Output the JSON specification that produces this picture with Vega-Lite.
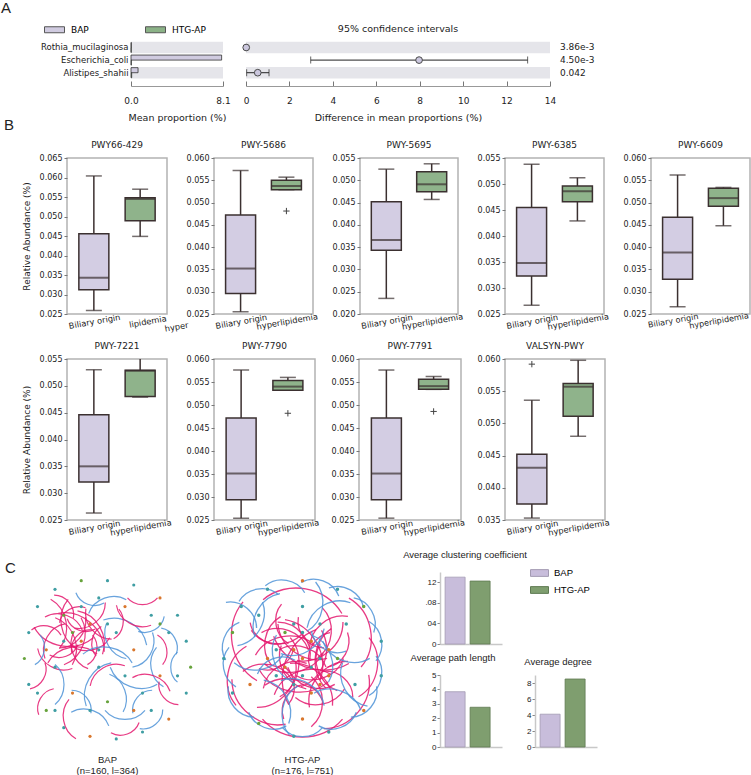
{
"$schema": "https://vega.github.io/schema/vega-lite/v6.json",
"padding": {"left": 1, "top": 1, "right": 0, "bottom": 0},
"background": "white",
"config": {
 "view": {"stroke": null},
 "font": "DejaVu Sans",
 "title": {"font": "DejaVu Sans", "fontWeight": "normal", "fontSize": 9, "color": "#222"},
 "axis": {"labelFont": "DejaVu Sans", "titleFont": "DejaVu Sans", "titleFontWeight": "normal", "titleFontSize": 9, "labelColor": "#222", "titleColor": "#222", "tickColor": "#777", "domainColor": "#999", "grid": false},
 "legend": {"labelFont": "DejaVu Sans"},
 "text": {"font": "DejaVu Sans"}
},
"datasets": {
 "prop": [
  {"sp":"Rothia_mucilaginosa","g":"BAP","v":0.03},
  {"sp":"Rothia_mucilaginosa","g":"HTG-AP","v":0.02},
  {"sp":"Escherichia_coli","g":"BAP","v":7.98},
  {"sp":"Escherichia_coli","g":"HTG-AP","v":0.03},
  {"sp":"Alistipes_shahii","g":"BAP","v":0.62},
  {"sp":"Alistipes_shahii","g":"HTG-AP","v":0.06}
 ],
 "bandsA": [{"sp":"Rothia_mucilaginosa"},{"sp":"Alistipes_shahii"}],
 "ci": [
  {"sp":"Rothia_mucilaginosa","d":0.01,"lo":0.0,"hi":0.02,"p":"3.86e-3"},
  {"sp":"Escherichia_coli","d":7.97,"lo":2.98,"hi":12.97,"p":"4.50e-3"},
  {"sp":"Alistipes_shahii","d":0.54,"lo":0.03,"hi":1.06,"p":"0.042"}
 ],
 "box": [
  {"p":"PWY66-429","g":"Biliary origin","lo":0.0259,"q1":0.0312,"med":0.0343,"q3":0.0456,"hi":0.0604},
  {"p":"PWY66-429","g":"hyperlipidemia","lo":0.0449,"q1":0.0489,"med":0.0545,"q3":0.0548,"hi":0.0570},
  {"p":"PWY-5686","g":"Biliary origin","lo":0.0255,"q1":0.0296,"med":0.0352,"q3":0.0472,"hi":0.0572},
  {"p":"PWY-5686","g":"hyperlipidemia","lo":0.0529,"q1":0.0529,"med":0.0537,"q3":0.0550,"hi":0.0557},
  {"p":"PWY-5695","g":"Biliary origin","lo":0.0235,"q1":0.0343,"med":0.0366,"q3":0.0452,"hi":0.0525},
  {"p":"PWY-5695","g":"hyperlipidemia","lo":0.0457,"q1":0.0474,"med":0.0491,"q3":0.0519,"hi":0.0537},
  {"p":"PWY-6385","g":"Biliary origin","lo":0.0267,"q1":0.0323,"med":0.0348,"q3":0.0455,"hi":0.0538},
  {"p":"PWY-6385","g":"hyperlipidemia","lo":0.0429,"q1":0.0466,"med":0.0486,"q3":0.0496,"hi":0.0512},
  {"p":"PWY-6609","g":"Biliary origin","lo":0.0266,"q1":0.0328,"med":0.0388,"q3":0.0467,"hi":0.0562},
  {"p":"PWY-6609","g":"hyperlipidemia","lo":0.0448,"q1":0.0492,"med":0.0510,"q3":0.0532,"hi":0.0534},
  {"p":"PWY-7221","g":"Biliary origin","lo":0.0263,"q1":0.0321,"med":0.0350,"q3":0.0446,"hi":0.0530},
  {"p":"PWY-7221","g":"hyperlipidemia","lo":0.0479,"q1":0.0480,"med":0.0528,"q3":0.0529,"hi":0.0560},
  {"p":"PWY-7790","g":"Biliary origin","lo":0.0254,"q1":0.0294,"med":0.0351,"q3":0.0472,"hi":0.0576},
  {"p":"PWY-7790","g":"hyperlipidemia","lo":0.0532,"q1":0.0532,"med":0.0540,"q3":0.0553,"hi":0.0560},
  {"p":"PWY-7791","g":"Biliary origin","lo":0.0254,"q1":0.0294,"med":0.0351,"q3":0.0472,"hi":0.0576},
  {"p":"PWY-7791","g":"hyperlipidemia","lo":0.0534,"q1":0.0534,"med":0.0541,"q3":0.0556,"hi":0.0562},
  {"p":"VALSYN-PWY","g":"Biliary origin","lo":0.0353,"q1":0.0375,"med":0.0431,"q3":0.0452,"hi":0.0536},
  {"p":"VALSYN-PWY","g":"hyperlipidemia","lo":0.0480,"q1":0.0511,"med":0.0557,"q3":0.0562,"hi":0.0598}
 ],
 "out": [
  {"p":"PWY-5686","g":"hyperlipidemia","v":0.0481},
  {"p":"PWY-7790","g":"hyperlipidemia","v":0.0482},
  {"p":"PWY-7791","g":"hyperlipidemia","v":0.0486},
  {"p":"VALSYN-PWY","g":"Biliary origin","v":0.0592}
 ],
 "netstat": [
  {"m":"c","g":"BAP","v":0.130},{"m":"c","g":"HTG-AP","v":0.1224},
  {"m":"l","g":"BAP","v":3.84},{"m":"l","g":"HTG-AP","v":2.76},
  {"m":"d","g":"BAP","v":4.1},{"m":"d","g":"HTG-AP","v":8.5}
 ],
 "edges": [
  {"n":"B","x":-5,"y":4,"s":1600,"a":20,"k":"p"},{"n":"B","x":-4,"y":2,"s":2500,"a":110,"k":"p"},{"n":"B","x":-3,"y":4,"s":900,"a":200,"k":"p"},{"n":"B","x":-6,"y":2,"s":1600,"a":300,"k":"p"},
  {"n":"B","x":-2,"y":3,"s":2500,"a":60,"k":"p"},{"n":"B","x":-5,"y":1,"s":900,"a":160,"k":"p"},{"n":"B","x":-3,"y":1,"s":1600,"a":250,"k":"p"},{"n":"B","x":-4,"y":5,"s":900,"a":330,"k":"p"},
  {"n":"B","x":-6,"y":4,"s":2500,"a":80,"k":"p"},{"n":"B","x":-2,"y":5,"s":1600,"a":140,"k":"p"},{"n":"B","x":-1,"y":2,"s":900,"a":280,"k":"p"},{"n":"B","x":-7,"y":3,"s":900,"a":10,"k":"p"},
  {"n":"B","x":-3,"y":3,"s":3600,"a":40,"k":"p"},{"n":"B","x":-5,"y":3,"s":3600,"a":190,"k":"p"},{"n":"B","x":-1,"y":4,"s":1600,"a":230,"k":"p"},{"n":"B","x":-4,"y":0,"s":2500,"a":350,"k":"p"},
  {"n":"B","x":-2,"y":1,"s":900,"a":100,"k":"p"},{"n":"B","x":-6,"y":0,"s":1600,"a":210,"k":"p"},{"n":"B","x":-4,"y":3,"s":1600,"a":130,"k":"p"},{"n":"B","x":-3,"y":2,"s":900,"a":310,"k":"p"},
  {"n":"B","x":-4,"y":4,"s":2500,"a":260,"k":"p"},{"n":"B","x":-5,"y":2,"s":2500,"a":70,"k":"p"},{"n":"B","x":-2,"y":2,"s":1600,"a":170,"k":"p"},
  {"n":"B","x":2,"y":3,"s":2500,"a":30,"k":"b"},{"n":"B","x":4,"y":1,"s":1600,"a":120,"k":"b"},{"n":"B","x":3,"y":-2,"s":2500,"a":200,"k":"b"},{"n":"B","x":1,"y":-4,"s":1600,"a":70,"k":"b"},
  {"n":"B","x":-1,"y":-3,"s":2500,"a":300,"k":"b"},{"n":"B","x":5,"y":4,"s":900,"a":150,"k":"b"},{"n":"B","x":6,"y":-1,"s":1600,"a":260,"k":"b"},{"n":"B","x":0,"y":6,"s":1600,"a":340,"k":"b"},
  {"n":"B","x":-3,"y":-5,"s":900,"a":50,"k":"b"},{"n":"B","x":2,"y":-6,"s":1600,"a":180,"k":"b"},{"n":"B","x":-6,"y":-3,"s":1600,"a":90,"k":"b"},{"n":"B","x":0,"y":0,"s":2500,"a":10,"k":"b"},
  {"n":"B","x":1,"y":2,"s":1600,"a":240,"k":"b"},{"n":"B","x":4,"y":-5,"s":900,"a":310,"k":"b"},{"n":"B","x":7,"y":2,"s":900,"a":60,"k":"b"},{"n":"B","x":-2,"y":7,"s":900,"a":200,"k":"b"},
  {"n":"B","x":-2,"y":-7,"s":1600,"a":20,"k":"b"},{"n":"B","x":5,"y":-7,"s":900,"a":140,"k":"b"},{"n":"B","x":8,"y":-1,"s":900,"a":270,"k":"b"},{"n":"B","x":-8,"y":1,"s":900,"a":100,"k":"b"},
  {"n":"B","x":3,"y":5,"s":1600,"a":210,"k":"p"},{"n":"B","x":6,"y":1,"s":900,"a":80,"k":"p"},{"n":"B","x":5,"y":-3,"s":1600,"a":20,"k":"p"},{"n":"B","x":2,"y":-8,"s":900,"a":160,"k":"p"},
  {"n":"B","x":-4,"y":-7,"s":1600,"a":260,"k":"p"},{"n":"B","x":-8,"y":-2,"s":900,"a":120,"k":"p"},{"n":"B","x":0,"y":-2,"s":1600,"a":330,"k":"p"},{"n":"B","x":1,"y":4,"s":900,"a":100,"k":"p"},
  {"n":"B","x":7,"y":-4,"s":900,"a":230,"k":"p"},{"n":"B","x":-7,"y":-5,"s":900,"a":300,"k":"p"},{"n":"B","x":4,"y":7,"s":900,"a":180,"k":"p"},{"n":"B","x":-5,"y":6,"s":900,"a":50,"k":"p"},
  {"n":"H","x":0,"y":0,"s":2500,"a":20,"k":"p"},{"n":"H","x":-2,"y":-1,"s":3600,"a":100,"k":"p"},{"n":"H","x":1,"y":-2,"s":2500,"a":200,"k":"p"},{"n":"H","x":2,"y":1,"s":1600,"a":300,"k":"p"},
  {"n":"H","x":-1,"y":2,"s":2500,"a":50,"k":"p"},{"n":"H","x":-3,"y":0,"s":1600,"a":150,"k":"p"},{"n":"H","x":3,"y":-1,"s":2500,"a":250,"k":"p"},{"n":"H","x":0,"y":-3,"s":3600,"a":340,"k":"p"},
  {"n":"H","x":-2,"y":-3,"s":1600,"a":80,"k":"p"},{"n":"H","x":2,"y":-4,"s":2500,"a":170,"k":"p"},{"n":"H","x":1,"y":3,"s":1600,"a":230,"k":"p"},{"n":"H","x":-3,"y":2,"s":2500,"a":280,"k":"p"},
  {"n":"H","x":4,"y":1,"s":1600,"a":120,"k":"p"},{"n":"H","x":-4,"y":-2,"s":2500,"a":10,"k":"p"},{"n":"H","x":0,"y":1,"s":4900,"a":60,"k":"p"},{"n":"H","x":-1,"y":-2,"s":4900,"a":190,"k":"p"},
  {"n":"H","x":3,"y":3,"s":2500,"a":320,"k":"p"},{"n":"H","x":-2,"y":4,"s":1600,"a":260,"k":"p"},{"n":"H","x":4,"y":-3,"s":1600,"a":40,"k":"p"},{"n":"H","x":-4,"y":3,"s":1600,"a":210,"k":"p"},
  {"n":"H","x":1,"y":-5,"s":2500,"a":90,"k":"p"},{"n":"H","x":-1,"y":-5,"s":1600,"a":300,"k":"p"},{"n":"H","x":2,"y":2,"s":3600,"a":140,"k":"p"},{"n":"H","x":-2,"y":1,"s":3600,"a":350,"k":"p"},
  {"n":"H","x":1,"y":0,"s":3600,"a":110,"k":"p"},{"n":"H","x":-1,"y":-1,"s":2500,"a":240,"k":"p"},{"n":"H","x":2,"y":-1,"s":2500,"a":160,"k":"p"},{"n":"H","x":-2,"y":2,"s":2500,"a":20,"k":"p"},
  {"n":"H","x":0,"y":-1,"s":6400,"a":290,"k":"p"},{"n":"H","x":1,"y":1,"s":6400,"a":200,"k":"p"},{"n":"H","x":-3,"y":-3,"s":3600,"a":130,"k":"p"},{"n":"H","x":3,"y":-3,"s":3600,"a":310,"k":"p"},
  {"n":"H","x":-1,"y":0,"s":3600,"a":170,"k":"p"},{"n":"H","x":1,"y":-3,"s":3600,"a":45,"k":"p"},{"n":"H","x":0,"y":2,"s":3600,"a":215,"k":"p"},{"n":"H","x":-2,"y":-2,"s":2500,"a":330,"k":"p"},
  {"n":"H","x":2,"y":3,"s":2500,"a":95,"k":"p"},{"n":"H","x":-3,"y":3,"s":2500,"a":185,"k":"p"},{"n":"H","x":3,"y":0,"s":3600,"a":275,"k":"p"},{"n":"H","x":-1,"y":-4,"s":3600,"a":15,"k":"p"},
  {"n":"H","x":0,"y":2,"s":2500,"a":150,"k":"b"},{"n":"H","x":2,"y":0,"s":2500,"a":70,"k":"b"},{"n":"H","x":-2,"y":0,"s":2500,"a":250,"k":"b"},{"n":"H","x":0,"y":-4,"s":2500,"a":30,"k":"b"},
  {"n":"H","x":-3,"y":-1,"s":1600,"a":340,"k":"b"},{"n":"H","x":3,"y":2,"s":1600,"a":210,"k":"b"},
  {"n":"H","x":0,"y":6,"s":6400,"a":10,"k":"p"},{"n":"H","x":-6,"y":2,"s":6400,"a":260,"k":"p"},{"n":"H","x":5,"y":-5,"s":4900,"a":130,"k":"p"},{"n":"H","x":-5,"y":-5,"s":4900,"a":220,"k":"p"},
  {"n":"H","x":6,"y":3,"s":4900,"a":80,"k":"p"},{"n":"H","x":0,"y":-7,"s":6400,"a":180,"k":"p"},{"n":"H","x":7,"y":-1,"s":3600,"a":100,"k":"p"},{"n":"H","x":-7,"y":-2,"s":3600,"a":280,"k":"p"},
  {"n":"H","x":-7,"y":5,"s":1600,"a":40,"k":"b"},{"n":"H","x":-5,"y":7,"s":1600,"a":350,"k":"b"},{"n":"H","x":-2,"y":8,"s":1600,"a":10,"k":"b"},{"n":"H","x":2,"y":8,"s":1600,"a":20,"k":"b"},
  {"n":"H","x":5,"y":7,"s":1600,"a":30,"k":"b"},{"n":"H","x":7,"y":5,"s":1600,"a":60,"k":"b"},{"n":"H","x":8,"y":2,"s":1600,"a":80,"k":"b"},{"n":"H","x":8,"y":-2,"s":1600,"a":100,"k":"b"},
  {"n":"H","x":7,"y":-5,"s":1600,"a":130,"k":"b"},{"n":"H","x":4,"y":-7,"s":1600,"a":160,"k":"b"},{"n":"H","x":0,"y":-8,"s":1600,"a":180,"k":"b"},{"n":"H","x":-4,"y":-7,"s":1600,"a":200,"k":"b"},
  {"n":"H","x":-7,"y":-5,"s":1600,"a":230,"k":"b"},{"n":"H","x":-8,"y":-1,"s":1600,"a":260,"k":"b"},{"n":"H","x":-8,"y":2,"s":1600,"a":290,"k":"b"},{"n":"H","x":-6,"y":4,"s":2500,"a":120,"k":"b"},
  {"n":"H","x":6,"y":-3,"s":2500,"a":240,"k":"b"},{"n":"H","x":3,"y":5,"s":2500,"a":330,"k":"b"},{"n":"H","x":-3,"y":-5,"s":2500,"a":60,"k":"b"},{"n":"H","x":-5,"y":0,"s":2500,"a":170,"k":"b"},
  {"n":"H","x":5,"y":1,"s":2500,"a":200,"k":"b"},{"n":"H","x":1,"y":6,"s":2500,"a":100,"k":"b"},{"n":"H","x":-1,"y":-6,"s":2500,"a":280,"k":"b"},{"n":"H","x":-4,"y":5,"s":2500,"a":300,"k":"b"},
  {"n":"H","x":4,"y":-5,"s":2500,"a":20,"k":"b"}
 ],
 "nodes": [
  {"n":"B","x":-8,"y":6,"c":"t"},{"n":"B","x":-6,"y":8,"c":"t"},{"n":"B","x":-3,"y":9,"c":"g"},{"n":"B","x":0,"y":9,"c":"t"},{"n":"B","x":3,"y":8.5,"c":"t"},{"n":"B","x":6,"y":7,"c":"o"},
  {"n":"B","x":8,"y":5,"c":"t"},{"n":"B","x":9,"y":2,"c":"t"},{"n":"B","x":9.5,"y":-1,"c":"g"},{"n":"B","x":9,"y":-4,"c":"t"},{"n":"B","x":7,"y":-7,"c":"o"},{"n":"B","x":4,"y":-8.5,"c":"t"},
  {"n":"B","x":1,"y":-9.3,"c":"t"},{"n":"B","x":-2,"y":-9,"c":"o"},{"n":"B","x":-5,"y":-8,"c":"t"},{"n":"B","x":-7,"y":-6,"c":"g"},{"n":"B","x":-9,"y":-3,"c":"t"},{"n":"B","x":-9.5,"y":0,"c":"g"},
  {"n":"B","x":-9,"y":3,"c":"t"},{"n":"B","x":-7,"y":1,"c":"o"},{"n":"B","x":-5,"y":5,"c":"g"},{"n":"B","x":-3,"y":6,"c":"t"},{"n":"B","x":-1,"y":7,"c":"t"},{"n":"B","x":2,"y":6,"c":"o"},
  {"n":"B","x":5,"y":5,"c":"t"},{"n":"B","x":7,"y":3,"c":"t"},{"n":"B","x":6,"y":-2,"c":"o"},{"n":"B","x":4,"y":-4,"c":"t"},{"n":"B","x":2,"y":-2,"c":"t"},{"n":"B","x":0,"y":-5,"c":"g"},
  {"n":"B","x":-2,"y":-6,"c":"t"},{"n":"B","x":-4,"y":-4,"c":"o"},{"n":"B","x":-6,"y":-1,"c":"t"},{"n":"B","x":-3,"y":2,"c":"o"},{"n":"B","x":-1,"y":1,"c":"t"},{"n":"B","x":1,"y":3,"c":"t"},
  {"n":"B","x":3,"y":1,"c":"o"},{"n":"B","x":5,"y":-6,"c":"t"},{"n":"B","x":-8,"y":-4,"c":"t"},{"n":"B","x":8,"y":-2,"c":"t"},{"n":"B","x":-4,"y":3,"c":"g"},{"n":"B","x":-2,"y":4,"c":"o"},
  {"n":"B","x":-5,"y":2,"c":"t"},{"n":"B","x":0,"y":4,"c":"t"},{"n":"B","x":3,"y":-6,"c":"o"},{"n":"B","x":-6,"y":-6,"c":"t"},{"n":"B","x":6,"y":4,"c":"g"},{"n":"B","x":-1,"y":-1,"c":"t"},
  {"n":"H","x":0,"y":0,"c":"o"},{"n":"H","x":1,"y":-1,"c":"t"},{"n":"H","x":-1,"y":1,"c":"o"},{"n":"H","x":2,"y":0,"c":"t"},{"n":"H","x":-2,"y":-1,"c":"o"},{"n":"H","x":0,"y":-2,"c":"t"},
  {"n":"H","x":1,"y":2,"c":"o"},{"n":"H","x":-1,"y":-3,"c":"t"},{"n":"H","x":2,"y":-3,"c":"o"},{"n":"H","x":-3,"y":1,"c":"t"},{"n":"H","x":3,"y":1,"c":"o"},{"n":"H","x":-2,"y":3,"c":"g"},
  {"n":"H","x":0,"y":3,"c":"t"},{"n":"H","x":3,"y":-2,"c":"o"},{"n":"H","x":-3,"y":-2,"c":"t"},{"n":"H","x":1,"y":-4,"c":"o"},{"n":"H","x":-1,"y":4,"c":"t"},{"n":"H","x":4,"y":0,"c":"g"},
  {"n":"H","x":-4,"y":0,"c":"o"},{"n":"H","x":2,"y":4,"c":"t"},{"n":"H","x":-7,"y":6,"c":"t"},{"n":"H","x":-4,"y":8,"c":"t"},{"n":"H","x":0,"y":9,"c":"o"},{"n":"H","x":4,"y":8,"c":"t"},
  {"n":"H","x":7,"y":6,"c":"g"},{"n":"H","x":9,"y":2,"c":"t"},{"n":"H","x":9,"y":-2,"c":"t"},{"n":"H","x":7,"y":-6,"c":"o"},{"n":"H","x":3,"y":-8.5,"c":"t"},{"n":"H","x":-1,"y":-9,"c":"t"},
  {"n":"H","x":-5,"y":-7.5,"c":"g"},{"n":"H","x":-8,"y":-4,"c":"t"},{"n":"H","x":-9,"y":0,"c":"t"},{"n":"H","x":-8,"y":3,"c":"g"},{"n":"H","x":6,"y":-3,"c":"t"},{"n":"H","x":-6,"y":-3,"c":"o"},
  {"n":"H","x":5,"y":4,"c":"t"},{"n":"H","x":-5,"y":5,"c":"t"},{"n":"H","x":0,"y":-7,"c":"o"},{"n":"H","x":0,"y":6,"c":"t"}
 ]
},
"bounds": "flush",
"spacing": 0,
"resolve": {"scale": {"color": "independent", "stroke": "independent"}, "legend": {"color": "independent"}},
"vconcat": [
 {
  "bounds": "flush", "spacing": 0,
  "resolve": {"scale": {"color": "independent"}, "legend": {"color": "independent"}},
  "hconcat": [
   {"width": 111, "height": 46, "data": {"values": []}, "mark": {"type": "rule"}, "encoding": {},
    "title": {"text": "A", "anchor": "start", "frame": "group", "dx": -19, "offset": 24, "fontSize": 15, "font": "Liberation Sans"}},
   {
    "width": 92, "height": 46,
    "resolve": {"axis": {"x": "independent", "y": "independent"}},
    "layer": [
     {"data": {"name": "bandsA"}, "mark": {"type": "bar", "color": "#e5e5ea"},
      "encoding": {
       "y": {"field": "sp", "type": "nominal", "scale": {"domain": ["Rothia_mucilaginosa","Escherichia_coli","Alistipes_shahii"], "paddingInner": 0.08, "paddingOuter": 0.365, "align": 0.185}, "axis": {"domain": false, "ticks": false, "labelFontSize": 8.5, "labelPadding": 3, "title": null}},
       "x": {"datum": 0, "type": "quantitative", "scale": {"domain": [0, 8.1]}, "axis": {"values": [0, 8.1], "format": ".1f", "tickSize": -5, "labelPadding": 15, "labelFlush": false, "labelOverlap": false, "labelFontSize": 9, "titleFontSize": 9.5, "titlePadding": 7, "title": "Mean proportion (%)"}},
       "x2": {"datum": 8.1}
      }},
     {"data": {"name": "prop"}, "mark": {"type": "bar", "stroke": "#333", "strokeWidth": 0.8},
      "encoding": {
       "y": {"field": "sp", "type": "nominal", "scale": {"domain": ["Rothia_mucilaginosa","Escherichia_coli","Alistipes_shahii"], "paddingInner": 0.08, "paddingOuter": 0.365, "align": 0.185}, "axis": null},
       "yOffset": {"field": "g", "type": "nominal", "scale": {"domain": ["BAP","HTG-AP"], "paddingOuter": 0.15, "paddingInner": 0}},
       "x": {"field": "v", "type": "quantitative", "scale": {"domain": [0, 8.1]}, "axis": null},
       "color": {"field": "g", "type": "nominal", "scale": {"domain": ["BAP","HTG-AP"], "range": ["#d0cbe0","#8bb287"]},
        "legend": {"orient": "none", "legendX": -82, "legendY": -16, "direction": "horizontal", "title": null, "symbolType": "M-2,-0.6H2V0.6H-2Z", "symbolSize": 100, "labelOffset": 11, "columnPadding": 54, "padding": 0, "labelFontSize": 9, "symbolStrokeColor": "#555", "symbolStrokeWidth": 1, "symbolOpacity": 1}}
      }}
    ]
   },
   {"width": 23, "height": 46, "data": {"values": []}, "mark": {"type": "rule"}, "encoding": {}},
   {
    "width": 304, "height": 46,
    "title": {"text": "95% confidence intervals", "fontSize": 9.5, "offset": 7},
    "resolve": {"axis": {"x": "independent", "y": "independent"}},
    "layer": [
     {"data": {"name": "bandsA"}, "mark": {"type": "bar", "color": "#e5e5ea"},
      "encoding": {
       "y": {"field": "sp", "type": "nominal", "scale": {"domain": ["Rothia_mucilaginosa","Escherichia_coli","Alistipes_shahii"], "paddingInner": 0.08, "paddingOuter": 0.365, "align": 0.185}, "axis": null},
       "x": {"datum": 0, "type": "quantitative", "scale": {"domain": [0, 14]}, "axis": {"values": [0,2,4,6,8,10,12,14], "tickSize": -5, "labelPadding": 15, "labelFlush": false, "labelOverlap": false, "labelFontSize": 9, "titleFontSize": 9.5, "titlePadding": 7, "title": "Difference in mean proportions (%)"}},
       "x2": {"datum": 14}
      }},
     {"data": {"name": "ci"}, "mark": {"type": "rule", "color": "#222", "strokeWidth": 1},
      "encoding": {
       "y": {"field": "sp", "type": "nominal", "scale": {"domain": ["Rothia_mucilaginosa","Escherichia_coli","Alistipes_shahii"], "paddingInner": 0.08, "paddingOuter": 0.365, "align": 0.185}, "axis": null},
       "x": {"field": "lo", "type": "quantitative", "scale": {"domain": [0, 14]}, "axis": null},
       "x2": {"field": "hi"}
      }},
     {"data": {"name": "ci"}, "mark": {"type": "tick", "color": "#222", "thickness": 1, "size": 7},
      "encoding": {
       "y": {"field": "sp", "type": "nominal", "scale": {"domain": ["Rothia_mucilaginosa","Escherichia_coli","Alistipes_shahii"], "paddingInner": 0.08, "paddingOuter": 0.365, "align": 0.185}, "axis": null},
       "x": {"field": "lo", "type": "quantitative", "scale": {"domain": [0, 14]}, "axis": null}
      }},
     {"data": {"name": "ci"}, "mark": {"type": "tick", "color": "#222", "thickness": 1, "size": 7},
      "encoding": {
       "y": {"field": "sp", "type": "nominal", "scale": {"domain": ["Rothia_mucilaginosa","Escherichia_coli","Alistipes_shahii"], "paddingInner": 0.08, "paddingOuter": 0.365, "align": 0.185}, "axis": null},
       "x": {"field": "hi", "type": "quantitative", "scale": {"domain": [0, 14]}, "axis": null}
      }},
     {"data": {"name": "ci"}, "mark": {"type": "point", "filled": true, "fill": "#cbc7de", "stroke": "#4a4a4a", "strokeWidth": 1, "size": 45, "opacity": 1},
      "encoding": {
       "y": {"field": "sp", "type": "nominal", "scale": {"domain": ["Rothia_mucilaginosa","Escherichia_coli","Alistipes_shahii"], "paddingInner": 0.08, "paddingOuter": 0.365, "align": 0.185}, "axis": null},
       "x": {"field": "d", "type": "quantitative", "scale": {"domain": [0, 14]}, "axis": null}
      }},
     {"data": {"name": "ci"}, "mark": {"type": "text", "align": "left", "fontSize": 9, "color": "#222"},
      "encoding": {
       "y": {"field": "sp", "type": "nominal", "scale": {"domain": ["Rothia_mucilaginosa","Escherichia_coli","Alistipes_shahii"], "paddingInner": 0.08, "paddingOuter": 0.365, "align": 0.185}, "axis": null},
       "x": {"datum": 14.46, "type": "quantitative", "scale": {"domain": [0, 14]}, "axis": null},
       "text": {"field": "p"}
      }}
    ]
   }
  ]
 },
 {"width": 1, "height": 118, "data": {"values": []}, "mark": {"type": "rule"}, "encoding": {}},
 {
  "bounds": "flush", "spacing": 0,
  "resolve": {"scale": {"color": "independent"}, "legend": {"color": "independent"}},
  "hconcat": [
   {"width": 47, "height": 156, "data": {"values": []}, "mark": {"type": "rule"}, "encoding": {},
    "title": {"text": "B", "anchor": "start", "frame": "group", "dx": -16, "offset": 25, "fontSize": 15, "font": "Liberation Sans"}},
   {"width": 100, "height": 156, "view": {"stroke": "#b3b3b3", "strokeWidth": 1.5},
    "title": {"text": "PWY66-429", "fontSize": 9, "offset": 4},
    "data": {"name": "box"}, "transform": [{"filter": "datum.p == 'PWY66-429'"}],
    "resolve": {"axis": {"y": "independent"}},
    "encoding": {"x": {"field": "g", "type": "nominal", "scale": {"domain": ["Biliary origin","hyperlipidemia"], "paddingInner": 0, "paddingOuter": 0.08}, "axis": {"labelAngle": -10, "labelAlign": "center", "labelBaseline": "top", "labelPadding": 3, "labelOffset": {"condition": {"test": "datum.value == 'hyperlipidemia'", "value": 7}, "value": 0}, "domain": false, "ticks": false, "labelFontSize": 8.3, "labelExpr": "datum.value == 'hyperlipidemia' ? ['lipidemia', '\u2800\u2800\u2800\u2800\u2800\u2800\u2800\u2800\u2800hyper'] : datum.label", "title": null}}},
    "layer": [
     {"mark": {"type": "rule", "color": "#3b3030", "strokeWidth": 1.5, "clip": true}, "encoding": {"y": {"field": "lo", "type": "quantitative", "scale": {"domain": [0.025, 0.065]}, "axis": {"values": [0.025,0.03,0.035,0.04,0.045,0.05,0.055,0.06,0.065], "format": ".3f", "domain": false, "tickSize": 3, "labelFontSize": 8, "labelPadding": 2, "labelOverlap": false, "title": "Relative Abundance (%)", "titlePadding": 8}}, "y2": {"field": "hi"}}},
     {"mark": {"type": "tick", "color": "#3b3030", "thickness": 1.5, "size": 16, "clip": true}, "encoding": {"y": {"field": "lo", "type": "quantitative", "scale": {"domain": [0.025, 0.065]}, "axis": null}}},
     {"mark": {"type": "tick", "color": "#3b3030", "thickness": 1.5, "size": 16, "clip": true}, "encoding": {"y": {"field": "hi", "type": "quantitative", "scale": {"domain": [0.025, 0.065]}, "axis": null}}},
     {"mark": {"type": "bar", "size": 30, "stroke": "#3b3030", "strokeWidth": 1.5, "clip": true}, "encoding": {"y": {"field": "q1", "type": "quantitative", "scale": {"domain": [0.025, 0.065]}, "axis": null}, "y2": {"field": "q3"}, "color": {"field": "g", "type": "nominal", "scale": {"domain": ["Biliary origin","hyperlipidemia"], "range": ["#d3cde3","#8fb38b"]}, "legend": null}}},
     {"mark": {"type": "tick", "color": "#3b3030", "thickness": 2, "size": 30, "clip": true}, "encoding": {"y": {"field": "med", "type": "quantitative", "scale": {"domain": [0.025, 0.065]}, "axis": null}}}
    ]},
   {"width": 47, "height": 156, "data": {"values": []}, "mark": {"type": "rule"}, "encoding": {}},
   {"width": 99, "height": 156, "view": {"stroke": "#b3b3b3", "strokeWidth": 1.5},
    "title": {"text": "PWY-5686", "fontSize": 9, "offset": 4},
    "data": {"name": "box"}, "transform": [{"filter": "datum.p == 'PWY-5686'"}],
    "resolve": {"axis": {"y": "independent"}},
    "encoding": {"x": {"field": "g", "type": "nominal", "scale": {"domain": ["Biliary origin","hyperlipidemia"], "paddingInner": 0, "paddingOuter": 0.08}, "axis": {"labelAngle": -10, "labelAlign": "center", "labelBaseline": "top", "labelPadding": 3, "domain": false, "ticks": false, "labelFontSize": 8.3, "title": null}}},
    "layer": [
     {"mark": {"type": "rule", "color": "#3b3030", "strokeWidth": 1.5, "clip": true}, "encoding": {"y": {"field": "lo", "type": "quantitative", "scale": {"domain": [0.025, 0.06]}, "axis": {"values": [0.025,0.03,0.035,0.04,0.045,0.05,0.055,0.06], "format": ".3f", "domain": false, "tickSize": 3, "labelFontSize": 8, "labelPadding": 2, "labelOverlap": false, "title": null}}, "y2": {"field": "hi"}}},
     {"mark": {"type": "tick", "color": "#3b3030", "thickness": 1.5, "size": 16, "clip": true}, "encoding": {"y": {"field": "lo", "type": "quantitative", "scale": {"domain": [0.025, 0.06]}, "axis": null}}},
     {"mark": {"type": "tick", "color": "#3b3030", "thickness": 1.5, "size": 16, "clip": true}, "encoding": {"y": {"field": "hi", "type": "quantitative", "scale": {"domain": [0.025, 0.06]}, "axis": null}}},
     {"mark": {"type": "bar", "size": 30, "stroke": "#3b3030", "strokeWidth": 1.5, "clip": true}, "encoding": {"y": {"field": "q1", "type": "quantitative", "scale": {"domain": [0.025, 0.06]}, "axis": null}, "y2": {"field": "q3"}, "color": {"field": "g", "type": "nominal", "scale": {"domain": ["Biliary origin","hyperlipidemia"], "range": ["#d3cde3","#8fb38b"]}, "legend": null}}},
     {"mark": {"type": "tick", "color": "#3b3030", "thickness": 2, "size": 30, "clip": true}, "encoding": {"y": {"field": "med", "type": "quantitative", "scale": {"domain": [0.025, 0.06]}, "axis": null}}},
     {"data": {"name": "out"}, "transform": [{"filter": "datum.p == 'PWY-5686'"}], "mark": {"type": "point", "shape": "M-1,0H1M0,-1V1", "filled": false, "color": "#444", "size": 40, "strokeWidth": 1, "opacity": 1}, "encoding": {"y": {"field": "v", "type": "quantitative", "scale": {"domain": [0.025, 0.06]}, "axis": null}}}
    ]},
   {"width": 47, "height": 156, "data": {"values": []}, "mark": {"type": "rule"}, "encoding": {}},
   {"width": 98, "height": 156, "view": {"stroke": "#b3b3b3", "strokeWidth": 1.5},
    "title": {"text": "PWY-5695", "fontSize": 9, "offset": 4},
    "data": {"name": "box"}, "transform": [{"filter": "datum.p == 'PWY-5695'"}],
    "resolve": {"axis": {"y": "independent"}},
    "encoding": {"x": {"field": "g", "type": "nominal", "scale": {"domain": ["Biliary origin","hyperlipidemia"], "paddingInner": 0, "paddingOuter": 0.08}, "axis": {"labelAngle": -10, "labelAlign": "center", "labelBaseline": "top", "labelPadding": 3, "domain": false, "ticks": false, "labelFontSize": 8.3, "title": null}}},
    "layer": [
     {"mark": {"type": "rule", "color": "#3b3030", "strokeWidth": 1.5, "clip": true}, "encoding": {"y": {"field": "lo", "type": "quantitative", "scale": {"domain": [0.02, 0.055]}, "axis": {"values": [0.02,0.025,0.03,0.035,0.04,0.045,0.05,0.055], "format": ".3f", "domain": false, "tickSize": 3, "labelFontSize": 8, "labelPadding": 2, "labelOverlap": false, "title": null}}, "y2": {"field": "hi"}}},
     {"mark": {"type": "tick", "color": "#3b3030", "thickness": 1.5, "size": 16, "clip": true}, "encoding": {"y": {"field": "lo", "type": "quantitative", "scale": {"domain": [0.02, 0.055]}, "axis": null}}},
     {"mark": {"type": "tick", "color": "#3b3030", "thickness": 1.5, "size": 16, "clip": true}, "encoding": {"y": {"field": "hi", "type": "quantitative", "scale": {"domain": [0.02, 0.055]}, "axis": null}}},
     {"mark": {"type": "bar", "size": 30, "stroke": "#3b3030", "strokeWidth": 1.5, "clip": true}, "encoding": {"y": {"field": "q1", "type": "quantitative", "scale": {"domain": [0.02, 0.055]}, "axis": null}, "y2": {"field": "q3"}, "color": {"field": "g", "type": "nominal", "scale": {"domain": ["Biliary origin","hyperlipidemia"], "range": ["#d3cde3","#8fb38b"]}, "legend": null}}},
     {"mark": {"type": "tick", "color": "#3b3030", "thickness": 2, "size": 30, "clip": true}, "encoding": {"y": {"field": "med", "type": "quantitative", "scale": {"domain": [0.02, 0.055]}, "axis": null}}}
    ]},
   {"width": 47, "height": 156, "data": {"values": []}, "mark": {"type": "rule"}, "encoding": {}},
   {"width": 99, "height": 156, "view": {"stroke": "#b3b3b3", "strokeWidth": 1.5},
    "title": {"text": "PWY-6385", "fontSize": 9, "offset": 4},
    "data": {"name": "box"}, "transform": [{"filter": "datum.p == 'PWY-6385'"}],
    "resolve": {"axis": {"y": "independent"}},
    "encoding": {"x": {"field": "g", "type": "nominal", "scale": {"domain": ["Biliary origin","hyperlipidemia"], "paddingInner": 0, "paddingOuter": 0.08}, "axis": {"labelAngle": -10, "labelAlign": "center", "labelBaseline": "top", "labelPadding": 3, "domain": false, "ticks": false, "labelFontSize": 8.3, "title": null}}},
    "layer": [
     {"mark": {"type": "rule", "color": "#3b3030", "strokeWidth": 1.5, "clip": true}, "encoding": {"y": {"field": "lo", "type": "quantitative", "scale": {"domain": [0.025, 0.055]}, "axis": {"values": [0.025,0.03,0.035,0.04,0.045,0.05,0.055], "format": ".3f", "domain": false, "tickSize": 3, "labelFontSize": 8, "labelPadding": 2, "labelOverlap": false, "title": null}}, "y2": {"field": "hi"}}},
     {"mark": {"type": "tick", "color": "#3b3030", "thickness": 1.5, "size": 16, "clip": true}, "encoding": {"y": {"field": "lo", "type": "quantitative", "scale": {"domain": [0.025, 0.055]}, "axis": null}}},
     {"mark": {"type": "tick", "color": "#3b3030", "thickness": 1.5, "size": 16, "clip": true}, "encoding": {"y": {"field": "hi", "type": "quantitative", "scale": {"domain": [0.025, 0.055]}, "axis": null}}},
     {"mark": {"type": "bar", "size": 30, "stroke": "#3b3030", "strokeWidth": 1.5, "clip": true}, "encoding": {"y": {"field": "q1", "type": "quantitative", "scale": {"domain": [0.025, 0.055]}, "axis": null}, "y2": {"field": "q3"}, "color": {"field": "g", "type": "nominal", "scale": {"domain": ["Biliary origin","hyperlipidemia"], "range": ["#d3cde3","#8fb38b"]}, "legend": null}}},
     {"mark": {"type": "tick", "color": "#3b3030", "thickness": 2, "size": 30, "clip": true}, "encoding": {"y": {"field": "med", "type": "quantitative", "scale": {"domain": [0.025, 0.055]}, "axis": null}}}
    ]},
   {"width": 47, "height": 156, "data": {"values": []}, "mark": {"type": "rule"}, "encoding": {}},
   {"width": 99, "height": 156, "view": {"stroke": "#b3b3b3", "strokeWidth": 1.5},
    "title": {"text": "PWY-6609", "fontSize": 9, "offset": 4},
    "data": {"name": "box"}, "transform": [{"filter": "datum.p == 'PWY-6609'"}],
    "resolve": {"axis": {"y": "independent"}},
    "encoding": {"x": {"field": "g", "type": "nominal", "scale": {"domain": ["Biliary origin","hyperlipidemia"], "paddingInner": 0, "paddingOuter": 0.08}, "axis": {"labelAngle": -10, "labelAlign": "center", "labelBaseline": "top", "labelPadding": 3, "labelOffset": -5, "domain": false, "ticks": false, "labelFontSize": 8.1, "title": null}}},
    "layer": [
     {"mark": {"type": "rule", "color": "#3b3030", "strokeWidth": 1.5, "clip": true}, "encoding": {"y": {"field": "lo", "type": "quantitative", "scale": {"domain": [0.025, 0.06]}, "axis": {"values": [0.025,0.03,0.035,0.04,0.045,0.05,0.055,0.06], "format": ".3f", "domain": false, "tickSize": 3, "labelFontSize": 8, "labelPadding": 2, "labelOverlap": false, "title": null}}, "y2": {"field": "hi"}}},
     {"mark": {"type": "tick", "color": "#3b3030", "thickness": 1.5, "size": 16, "clip": true}, "encoding": {"y": {"field": "lo", "type": "quantitative", "scale": {"domain": [0.025, 0.06]}, "axis": null}}},
     {"mark": {"type": "tick", "color": "#3b3030", "thickness": 1.5, "size": 16, "clip": true}, "encoding": {"y": {"field": "hi", "type": "quantitative", "scale": {"domain": [0.025, 0.06]}, "axis": null}}},
     {"mark": {"type": "bar", "size": 30, "stroke": "#3b3030", "strokeWidth": 1.5, "clip": true}, "encoding": {"y": {"field": "q1", "type": "quantitative", "scale": {"domain": [0.025, 0.06]}, "axis": null}, "y2": {"field": "q3"}, "color": {"field": "g", "type": "nominal", "scale": {"domain": ["Biliary origin","hyperlipidemia"], "range": ["#d3cde3","#8fb38b"]}, "legend": null}}},
     {"mark": {"type": "tick", "color": "#3b3030", "thickness": 2, "size": 30, "clip": true}, "encoding": {"y": {"field": "med", "type": "quantitative", "scale": {"domain": [0.025, 0.06]}, "axis": null}}}
    ]}
  ]
 },
 {"width": 1, "height": 201, "data": {"values": []}, "mark": {"type": "rule"}, "encoding": {}},
 {
  "bounds": "flush", "spacing": 0,
  "resolve": {"scale": {"color": "independent"}, "legend": {"color": "independent"}},
  "hconcat": [
   {"width": 47, "height": 161, "data": {"values": []}, "mark": {"type": "rule"}, "encoding": {}},
   {"width": 100, "height": 161, "view": {"stroke": "#b3b3b3", "strokeWidth": 1.5},
    "title": {"text": "PWY-7221", "fontSize": 9, "offset": 4},
    "data": {"name": "box"}, "transform": [{"filter": "datum.p == 'PWY-7221'"}],
    "resolve": {"axis": {"y": "independent"}},
    "encoding": {"x": {"field": "g", "type": "nominal", "scale": {"domain": ["Biliary origin","hyperlipidemia"], "paddingInner": 0, "paddingOuter": 0.08}, "axis": {"labelAngle": -10, "labelAlign": "center", "labelBaseline": "top", "labelPadding": 3, "domain": false, "ticks": false, "labelFontSize": 8.3, "title": null}}},
    "layer": [
     {"mark": {"type": "rule", "color": "#3b3030", "strokeWidth": 1.5, "clip": true}, "encoding": {"y": {"field": "lo", "type": "quantitative", "scale": {"domain": [0.025, 0.055]}, "axis": {"values": [0.025,0.03,0.035,0.04,0.045,0.05,0.055], "format": ".3f", "domain": false, "tickSize": 3, "labelFontSize": 8, "labelPadding": 2, "labelOverlap": false, "title": "Relative Abundance (%)", "titlePadding": 8}}, "y2": {"field": "hi"}}},
     {"mark": {"type": "tick", "color": "#3b3030", "thickness": 1.5, "size": 16, "clip": true}, "encoding": {"y": {"field": "lo", "type": "quantitative", "scale": {"domain": [0.025, 0.055]}, "axis": null}}},
     {"mark": {"type": "tick", "color": "#3b3030", "thickness": 1.5, "size": 16, "clip": true}, "encoding": {"y": {"field": "hi", "type": "quantitative", "scale": {"domain": [0.025, 0.055]}, "axis": null}}},
     {"mark": {"type": "bar", "size": 30, "stroke": "#3b3030", "strokeWidth": 1.5, "clip": true}, "encoding": {"y": {"field": "q1", "type": "quantitative", "scale": {"domain": [0.025, 0.055]}, "axis": null}, "y2": {"field": "q3"}, "color": {"field": "g", "type": "nominal", "scale": {"domain": ["Biliary origin","hyperlipidemia"], "range": ["#d3cde3","#8fb38b"]}, "legend": null}}},
     {"mark": {"type": "tick", "color": "#3b3030", "thickness": 2, "size": 30, "clip": true}, "encoding": {"y": {"field": "med", "type": "quantitative", "scale": {"domain": [0.025, 0.055]}, "axis": null}}}
    ]},
   {"width": 47, "height": 161, "data": {"values": []}, "mark": {"type": "rule"}, "encoding": {}},
   {"width": 101, "height": 161, "view": {"stroke": "#b3b3b3", "strokeWidth": 1.5},
    "title": {"text": "PWY-7790", "fontSize": 9, "offset": 4},
    "data": {"name": "box"}, "transform": [{"filter": "datum.p == 'PWY-7790'"}],
    "resolve": {"axis": {"y": "independent"}},
    "encoding": {"x": {"field": "g", "type": "nominal", "scale": {"domain": ["Biliary origin","hyperlipidemia"], "paddingInner": 0, "paddingOuter": 0.08}, "axis": {"labelAngle": -10, "labelAlign": "center", "labelBaseline": "top", "labelPadding": 3, "domain": false, "ticks": false, "labelFontSize": 8.3, "title": null}}},
    "layer": [
     {"mark": {"type": "rule", "color": "#3b3030", "strokeWidth": 1.5, "clip": true}, "encoding": {"y": {"field": "lo", "type": "quantitative", "scale": {"domain": [0.025, 0.06]}, "axis": {"values": [0.025,0.03,0.035,0.04,0.045,0.05,0.055,0.06], "format": ".3f", "domain": false, "tickSize": 3, "labelFontSize": 8, "labelPadding": 2, "labelOverlap": false, "title": null}}, "y2": {"field": "hi"}}},
     {"mark": {"type": "tick", "color": "#3b3030", "thickness": 1.5, "size": 16, "clip": true}, "encoding": {"y": {"field": "lo", "type": "quantitative", "scale": {"domain": [0.025, 0.06]}, "axis": null}}},
     {"mark": {"type": "tick", "color": "#3b3030", "thickness": 1.5, "size": 16, "clip": true}, "encoding": {"y": {"field": "hi", "type": "quantitative", "scale": {"domain": [0.025, 0.06]}, "axis": null}}},
     {"mark": {"type": "bar", "size": 30, "stroke": "#3b3030", "strokeWidth": 1.5, "clip": true}, "encoding": {"y": {"field": "q1", "type": "quantitative", "scale": {"domain": [0.025, 0.06]}, "axis": null}, "y2": {"field": "q3"}, "color": {"field": "g", "type": "nominal", "scale": {"domain": ["Biliary origin","hyperlipidemia"], "range": ["#d3cde3","#8fb38b"]}, "legend": null}}},
     {"mark": {"type": "tick", "color": "#3b3030", "thickness": 2, "size": 30, "clip": true}, "encoding": {"y": {"field": "med", "type": "quantitative", "scale": {"domain": [0.025, 0.06]}, "axis": null}}},
     {"data": {"name": "out"}, "transform": [{"filter": "datum.p == 'PWY-7790'"}], "mark": {"type": "point", "shape": "M-1,0H1M0,-1V1", "filled": false, "color": "#444", "size": 40, "strokeWidth": 1, "opacity": 1}, "encoding": {"y": {"field": "v", "type": "quantitative", "scale": {"domain": [0.025, 0.06]}, "axis": null}}}
    ]},
   {"width": 44, "height": 161, "data": {"values": []}, "mark": {"type": "rule"}, "encoding": {}},
   {"width": 102, "height": 161, "view": {"stroke": "#b3b3b3", "strokeWidth": 1.5},
    "title": {"text": "PWY-7791", "fontSize": 9, "offset": 4},
    "data": {"name": "box"}, "transform": [{"filter": "datum.p == 'PWY-7791'"}],
    "resolve": {"axis": {"y": "independent"}},
    "encoding": {"x": {"field": "g", "type": "nominal", "scale": {"domain": ["Biliary origin","hyperlipidemia"], "paddingInner": 0, "paddingOuter": 0.08}, "axis": {"labelAngle": -10, "labelAlign": "center", "labelBaseline": "top", "labelPadding": 3, "domain": false, "ticks": false, "labelFontSize": 8.3, "title": null}}},
    "layer": [
     {"mark": {"type": "rule", "color": "#3b3030", "strokeWidth": 1.5, "clip": true}, "encoding": {"y": {"field": "lo", "type": "quantitative", "scale": {"domain": [0.025, 0.06]}, "axis": {"values": [0.025,0.03,0.035,0.04,0.045,0.05,0.055,0.06], "format": ".3f", "domain": false, "tickSize": 3, "labelFontSize": 8, "labelPadding": 2, "labelOverlap": false, "title": null}}, "y2": {"field": "hi"}}},
     {"mark": {"type": "tick", "color": "#3b3030", "thickness": 1.5, "size": 16, "clip": true}, "encoding": {"y": {"field": "lo", "type": "quantitative", "scale": {"domain": [0.025, 0.06]}, "axis": null}}},
     {"mark": {"type": "tick", "color": "#3b3030", "thickness": 1.5, "size": 16, "clip": true}, "encoding": {"y": {"field": "hi", "type": "quantitative", "scale": {"domain": [0.025, 0.06]}, "axis": null}}},
     {"mark": {"type": "bar", "size": 30, "stroke": "#3b3030", "strokeWidth": 1.5, "clip": true}, "encoding": {"y": {"field": "q1", "type": "quantitative", "scale": {"domain": [0.025, 0.06]}, "axis": null}, "y2": {"field": "q3"}, "color": {"field": "g", "type": "nominal", "scale": {"domain": ["Biliary origin","hyperlipidemia"], "range": ["#d3cde3","#8fb38b"]}, "legend": null}}},
     {"mark": {"type": "tick", "color": "#3b3030", "thickness": 2, "size": 30, "clip": true}, "encoding": {"y": {"field": "med", "type": "quantitative", "scale": {"domain": [0.025, 0.06]}, "axis": null}}},
     {"data": {"name": "out"}, "transform": [{"filter": "datum.p == 'PWY-7791'"}], "mark": {"type": "point", "shape": "M-1,0H1M0,-1V1", "filled": false, "color": "#444", "size": 40, "strokeWidth": 1, "opacity": 1}, "encoding": {"y": {"field": "v", "type": "quantitative", "scale": {"domain": [0.025, 0.06]}, "axis": null}}}
    ]},
   {"width": 44, "height": 161, "data": {"values": []}, "mark": {"type": "rule"}, "encoding": {}},
   {"width": 100, "height": 161, "view": {"stroke": "#b3b3b3", "strokeWidth": 1.5},
    "title": {"text": "VALSYN-PWY", "fontSize": 9, "offset": 4},
    "data": {"name": "box"}, "transform": [{"filter": "datum.p == 'VALSYN-PWY'"}],
    "resolve": {"axis": {"y": "independent"}},
    "encoding": {"x": {"field": "g", "type": "nominal", "scale": {"domain": ["Biliary origin","hyperlipidemia"], "paddingInner": 0, "paddingOuter": 0.08}, "axis": {"labelAngle": -10, "labelAlign": "center", "labelBaseline": "top", "labelPadding": 3, "domain": false, "ticks": false, "labelFontSize": 8.3, "title": null}}},
    "layer": [
     {"mark": {"type": "rule", "color": "#3b3030", "strokeWidth": 1.5, "clip": true}, "encoding": {"y": {"field": "lo", "type": "quantitative", "scale": {"domain": [0.035, 0.06]}, "axis": {"values": [0.035,0.04,0.045,0.05,0.055,0.06], "format": ".3f", "domain": false, "tickSize": 3, "labelFontSize": 8, "labelPadding": 2, "labelOverlap": false, "title": null}}, "y2": {"field": "hi"}}},
     {"mark": {"type": "tick", "color": "#3b3030", "thickness": 1.5, "size": 16, "clip": true}, "encoding": {"y": {"field": "lo", "type": "quantitative", "scale": {"domain": [0.035, 0.06]}, "axis": null}}},
     {"mark": {"type": "tick", "color": "#3b3030", "thickness": 1.5, "size": 16, "clip": true}, "encoding": {"y": {"field": "hi", "type": "quantitative", "scale": {"domain": [0.035, 0.06]}, "axis": null}}},
     {"mark": {"type": "bar", "size": 30, "stroke": "#3b3030", "strokeWidth": 1.5, "clip": true}, "encoding": {"y": {"field": "q1", "type": "quantitative", "scale": {"domain": [0.035, 0.06]}, "axis": null}, "y2": {"field": "q3"}, "color": {"field": "g", "type": "nominal", "scale": {"domain": ["Biliary origin","hyperlipidemia"], "range": ["#d3cde3","#8fb38b"]}, "legend": null}}},
     {"mark": {"type": "tick", "color": "#3b3030", "thickness": 2, "size": 30, "clip": true}, "encoding": {"y": {"field": "med", "type": "quantitative", "scale": {"domain": [0.035, 0.06]}, "axis": null}}},
     {"data": {"name": "out"}, "transform": [{"filter": "datum.p == 'VALSYN-PWY'"}], "mark": {"type": "point", "shape": "M-1,0H1M0,-1V1", "filled": false, "color": "#444", "size": 40, "strokeWidth": 1, "opacity": 1}, "encoding": {"y": {"field": "v", "type": "quantitative", "scale": {"domain": [0.035, 0.06]}, "axis": null}}}
    ]}
  ]
 },
 {"width": 1, "height": 213, "data": {"values": []}, "mark": {"type": "rule"}, "encoding": {},
  "title": {"text": "C", "orient": "bottom", "anchor": "start", "frame": "group", "dx": -15, "offset": -11, "fontSize": 15, "font": "Liberation Sans"}},
 {
  "bounds": "flush", "spacing": 0,
  "resolve": {"scale": {"color": "independent", "stroke": "independent", "fill": "independent"}, "legend": {"color": "independent"}},
  "hconcat": [
   {"width": 175, "height": 173,
    "title": {"text": ["BAP", "(n=160, l=364)"], "orient": "bottom", "offset": 10, "fontSize": 9.5, "font": "Liberation Sans", "lineHeight": 11},
    "layer": [
     {"data": {"name": "edges"}, "transform": [{"filter": "datum.n == 'B'"}],
      "mark": {"type": "point", "shape": "M-1,0C-0.5,-0.6,0.5,-0.6,1,0", "filled": false, "strokeWidth": 1.2, "opacity": 0.85},
      "encoding": {
       "x": {"field": "x", "type": "quantitative", "scale": {"domain": [-10, 10]}, "axis": null},
       "y": {"field": "y", "type": "quantitative", "scale": {"domain": [-10, 10]}, "axis": null},
       "size": {"field": "s", "type": "quantitative", "scale": null},
       "angle": {"field": "a", "type": "quantitative", "scale": null},
       "stroke": {"field": "k", "type": "nominal", "scale": {"domain": ["p","b"], "range": ["#e5196f","#4f94d8"]}, "legend": null}
      }},
     {"data": {"name": "nodes"}, "transform": [{"filter": "datum.n == 'B'"}],
      "mark": {"type": "circle", "size": 10, "opacity": 1},
      "encoding": {
       "x": {"field": "x", "type": "quantitative", "scale": {"domain": [-10, 10]}, "axis": null},
       "y": {"field": "y", "type": "quantitative", "scale": {"domain": [-10, 10]}, "axis": null},
       "fill": {"field": "c", "type": "nominal", "scale": {"domain": ["t","o","g"], "range": ["#3f9ea3","#d9772d","#67a33c"]}, "legend": null}
      }}
    ]},
   {"width": 20, "height": 173, "data": {"values": []}, "mark": {"type": "rule"}, "encoding": {}},
   {"width": 175, "height": 173,
    "title": {"text": ["HTG-AP", "(n=176, l=751)"], "orient": "bottom", "offset": 10, "fontSize": 9.5, "font": "Liberation Sans", "lineHeight": 11},
    "layer": [
     {"data": {"name": "edges"}, "transform": [{"filter": "datum.n == 'H'"}],
      "mark": {"type": "point", "shape": "M-1,0C-0.5,-0.6,0.5,-0.6,1,0", "filled": false, "strokeWidth": 1.3, "opacity": 0.85},
      "encoding": {
       "x": {"field": "x", "type": "quantitative", "scale": {"domain": [-10, 10]}, "axis": null},
       "y": {"field": "y", "type": "quantitative", "scale": {"domain": [-10, 10]}, "axis": null},
       "size": {"field": "s", "type": "quantitative", "scale": null},
       "angle": {"field": "a", "type": "quantitative", "scale": null},
       "stroke": {"field": "k", "type": "nominal", "scale": {"domain": ["p","b"], "range": ["#e5196f","#4f94d8"]}, "legend": null}
      }},
     {"data": {"name": "nodes"}, "transform": [{"filter": "datum.n == 'H'"}],
      "mark": {"type": "circle", "size": 12, "opacity": 1},
      "encoding": {
       "x": {"field": "x", "type": "quantitative", "scale": {"domain": [-10, 10]}, "axis": null},
       "y": {"field": "y", "type": "quantitative", "scale": {"domain": [-10, 10]}, "axis": null},
       "fill": {"field": "c", "type": "nominal", "scale": {"domain": ["t","o","g"], "range": ["#3f9ea3","#d9772d","#67a33c"]}, "legend": null}
      }}
    ]},
   {"width": 50, "height": 173, "data": {"values": []}, "mark": {"type": "rule"}, "encoding": {}},
   {
    "bounds": "flush", "spacing": 0,
    "resolve": {"scale": {"color": "independent", "stroke": "independent"}, "legend": {"color": "independent"}},
    "vconcat": [
     {"width": 62, "height": 72,
      "title": {"text": "Average clustering coefficient", "font": "Liberation Sans", "fontSize": 9.5, "offset": 9, "dx": -6},
      "data": {"name": "netstat"}, "transform": [{"filter": "datum.m == 'c'"}],
      "mark": {"type": "bar", "strokeWidth": 0.8},
      "encoding": {
       "x": {"field": "g", "type": "nominal", "scale": {"domain": ["BAP","HTG-AP"], "paddingInner": 0.2, "paddingOuter": 0.34, "align": 0.3}, "axis": {"labels": false, "ticks": false, "domainColor": "#c8c8c8", "domainWidth": 1.5, "title": null}},
       "y": {"field": "v", "type": "quantitative", "scale": {"domain": [0, 0.14]}, "axis": {"values": [0, 0.04, 0.08, 0.12], "labelExpr": "datum.value == 0.12 ? '12' : datum.value == 0.08 ? '.08' : datum.value == 0.04 ? '04' : '0'", "domainColor": "#c8c8c8", "domainWidth": 1.5, "tickSize": 3, "tickColor": "#888", "labelFontSize": 8, "labelFont": "Liberation Sans", "labelPadding": 1, "title": null}},
       "color": {"field": "g", "type": "nominal", "scale": {"domain": ["BAP","HTG-AP"], "range": ["#c8bddb","#7f9e6f"]},
        "legend": {"orient": "none", "legendX": 94.5, "legendY": -4, "title": null, "symbolType": "M-2,-0.75H2V0.75H-2Z", "symbolSize": 81, "labelOffset": 9.5, "rowPadding": 5, "padding": 0, "labelFontSize": 9.5, "labelFont": "Liberation Sans", "symbolStrokeColor": "#888", "symbolStrokeWidth": 1, "symbolOpacity": 1}},
       "stroke": {"field": "g", "type": "nominal", "scale": {"domain": ["BAP","HTG-AP"], "range": ["#a39bb2","#5f7a52"]}, "legend": null}
      }},
     {"width": 1, "height": 31, "data": {"values": []}, "mark": {"type": "rule"}, "encoding": {}},
     {
      "bounds": "flush", "spacing": 0,
      "resolve": {"scale": {"color": "independent", "stroke": "independent"}, "legend": {"color": "independent"}},
      "hconcat": [
       {"width": 62, "height": 72,
        "title": {"text": "Average path length", "font": "Liberation Sans", "fontSize": 9.5, "offset": 9, "dx": -18},
        "data": {"name": "netstat"}, "transform": [{"filter": "datum.m == 'l'"}],
        "mark": {"type": "bar", "strokeWidth": 0.8},
        "encoding": {
         "x": {"field": "g", "type": "nominal", "scale": {"domain": ["BAP","HTG-AP"], "paddingInner": 0.2, "paddingOuter": 0.34, "align": 0.3}, "axis": {"labels": false, "ticks": false, "domainColor": "#c8c8c8", "domainWidth": 1.5, "title": null}},
         "y": {"field": "v", "type": "quantitative", "scale": {"domain": [0, 5]}, "axis": {"values": [0,1,2,3,4,5], "domainColor": "#c8c8c8", "domainWidth": 1.5, "tickSize": 3, "tickColor": "#888", "labelFontSize": 8, "labelFont": "Liberation Sans", "labelPadding": 1, "title": null}},
         "color": {"field": "g", "type": "nominal", "scale": {"domain": ["BAP","HTG-AP"], "range": ["#c8bddb","#7f9e6f"]}, "legend": null},
         "stroke": {"field": "g", "type": "nominal", "scale": {"domain": ["BAP","HTG-AP"], "range": ["#a39bb2","#5f7a52"]}, "legend": null}
        }},
       {"width": 33, "height": 72, "data": {"values": []}, "mark": {"type": "rule"}, "encoding": {}},
       {"width": 62, "height": 72,
        "title": {"text": "Average degree", "font": "Liberation Sans", "fontSize": 9.5, "offset": 9, "dx": -8},
        "data": {"name": "netstat"}, "transform": [{"filter": "datum.m == 'd'"}],
        "mark": {"type": "bar", "strokeWidth": 0.8},
        "encoding": {
         "x": {"field": "g", "type": "nominal", "scale": {"domain": ["BAP","HTG-AP"], "paddingInner": 0.2, "paddingOuter": 0.34, "align": 0.3}, "axis": {"labels": false, "ticks": false, "domainColor": "#c8c8c8", "domainWidth": 1.5, "title": null}},
         "y": {"field": "v", "type": "quantitative", "scale": {"domain": [0, 9]}, "axis": {"values": [0,2,4,6,8], "domainColor": "#c8c8c8", "domainWidth": 1.5, "tickSize": 3, "tickColor": "#888", "labelFontSize": 8, "labelFont": "Liberation Sans", "labelPadding": 1, "title": null}},
         "color": {"field": "g", "type": "nominal", "scale": {"domain": ["BAP","HTG-AP"], "range": ["#c8bddb","#7f9e6f"]}, "legend": null},
         "stroke": {"field": "g", "type": "nominal", "scale": {"domain": ["BAP","HTG-AP"], "range": ["#a39bb2","#5f7a52"]}, "legend": null}
        }}
      ]
     }
    ]
   }
  ]
 }
]
}
